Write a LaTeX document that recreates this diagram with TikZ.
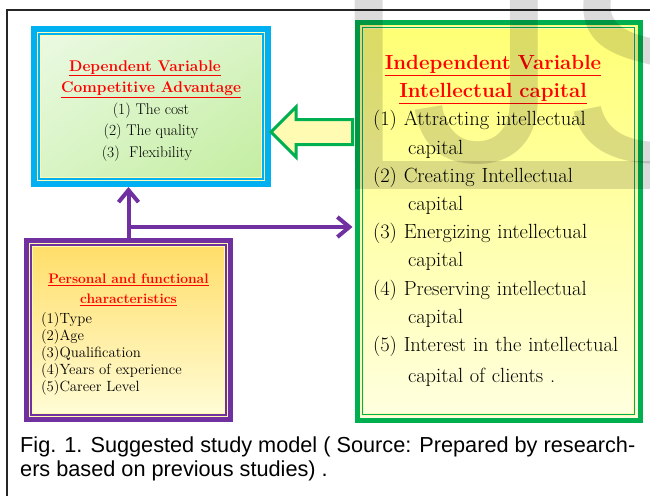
\documentclass[tikz,border=0pt]{standalone}
\usepackage{fontspec}
\newfontfamily\capfont{Liberation Sans}
\usetikzlibrary{arrows.meta,calc,positioning,shadings}

\definecolor{cyanb}{HTML}{00B0F0}
\definecolor{greenb}{HTML}{00B050}
\definecolor{purpleb}{HTML}{7030A0}
\definecolor{depA}{RGB}{236,250,228}
\definecolor{depM}{RGB}{216,244,196}
\definecolor{depB}{RGB}{194,237,158}

\newcommand{\redtitle}[1]{\textcolor{red}{\underline{\textbf{#1}}}}
\newcommand{\innerframe}[3]{%
  \draw[yellow!30, line width=3.5pt] ([shift={(#3,#3)}]#1.north west) rectangle ([shift={(-#3,-#3)}]#1.south east);
  \draw[#2, line width=1.4pt] ([shift={(#3,#3)}]#1.north west) rectangle ([shift={(-#3,-#3)}]#1.south east);}

\tikzset{
  box/.style={draw, inner sep=0pt},
  link/.style={purpleb, line width=4pt, -{Straight Barb[length=12pt,width=20pt]}},
  bigarrow/.style={draw=greenb, line width=3pt, fill=yellow!30},
}

\begin{document}
\begin{tikzpicture}[x=1pt,y=-1pt]
  \useasboundingbox (0,0) rectangle (650,496);
  \draw[black!85, line width=1.5pt] (650,10) -- (7,10) -- (7,496);

  \node[box, draw=cyanb, line width=6pt, minimum width=234pt, minimum height=155pt,
        upper left=depA, upper right=depM, lower left=depM, lower right=depB,
        align=center, font=\fontsize{15.5}{21.5}\selectfont] (dep) at (151,106.5)
    {\rule{0pt}{19pt}\redtitle{Dependent Variable}\hspace*{12pt}\\ \redtitle{Competitive Advantage}\hspace*{12pt}\\
     (1) The cost\hspace*{8pt}\\ (2) The quality\hspace*{8pt}\\ (3)~ Flexibility\hspace*{8pt}};
  \innerframe{dep}{cyanb}{8}

  \node[box, draw=greenb, line width=5pt, minimum width=283pt, minimum height=398pt,
        top color=yellow!55, bottom color=yellow!12,
        text width=251pt, align=left, font=\fontsize{20.5}{28.2}\selectfont] (indep) at (498.5,221)
    {\makebox[240pt]{\redtitle{Independent Variable}}\\
     \makebox[240pt]{\redtitle{Intellectual capital}}\\
     (1) Attracting intellectual\\ \hspace*{35pt}capital\\
     (2) Creating Intellectual\\ \hspace*{35pt}capital\\
     (3) Energizing intellectual\\ \hspace*{35pt}capital\\
     (4) Preserving intellectual\\ \hspace*{35pt}capital\\
     (5) Interest in the intellectual\\[3pt] \hspace*{35pt}capital of clients .};
  \innerframe{indep}{greenb}{8}

  \node[box, draw=purpleb, line width=6pt, minimum width=203pt, minimum height=178pt,
        top color=orange!45!yellow!60, bottom color=orange!10!yellow!15,
        text width=175pt, align=left, font=\fontsize{14.8}{17}\selectfont] (pers) at (128.5,330)
    {\rule{0pt}{19pt}\makebox[175pt]{\fontsize{13.8}{17}\selectfont\redtitle{Personal and functional}}\\[3pt]
     \makebox[175pt]{\fontsize{13.8}{17}\selectfont\redtitle{characteristics}}\\[3pt]
     (1)Type\\ (2)Age\\ (3)Qualification\\ (4)Years of experience\\ (5)Career Level};
  \innerframe{pers}{purpleb}{7}

  \coordinate (tip) at (dep.east |- 0,132);
  \draw[bigarrow] (tip) -- ++(25,-25) -- ++(0,12.5)
    -- ([xshift=-2pt]indep.west |- 0,119.5) -- ([xshift=-2pt]indep.west |- 0,144.5)
    -- ($(tip)+(25,12.5)$) -- ($(tip)+(25,25)$) -- cycle;

  \draw[link] (pers.north) -- (pers.north |- dep.south);
  \coordinate (split) at (pers.north |- 0,227);
  \draw[link, shorten >=2pt] (split) -- (split -| indep.west);

  \begin{scope}
    \clip (340,0) rectangle (650,193);
    \fill[black, opacity=0.14] (355,161) rectangle (650,189);
    \node[anchor=base west, inner sep=0pt, text=black, text opacity=0.14,
          font=\capfont\fontsize{300}{300}\selectfont] (mark) at (327,161) {IJS};
  \end{scope}

  \node[anchor=north west, inner sep=0pt, align=left,
        font=\capfont\fontsize{21.7}{24}\selectfont] (caption) at (20,437)
    {Fig. 1. Suggested study model ( Source: Prepared by research-\\ers based on previous studies) .};
\end{tikzpicture}
\end{document}
